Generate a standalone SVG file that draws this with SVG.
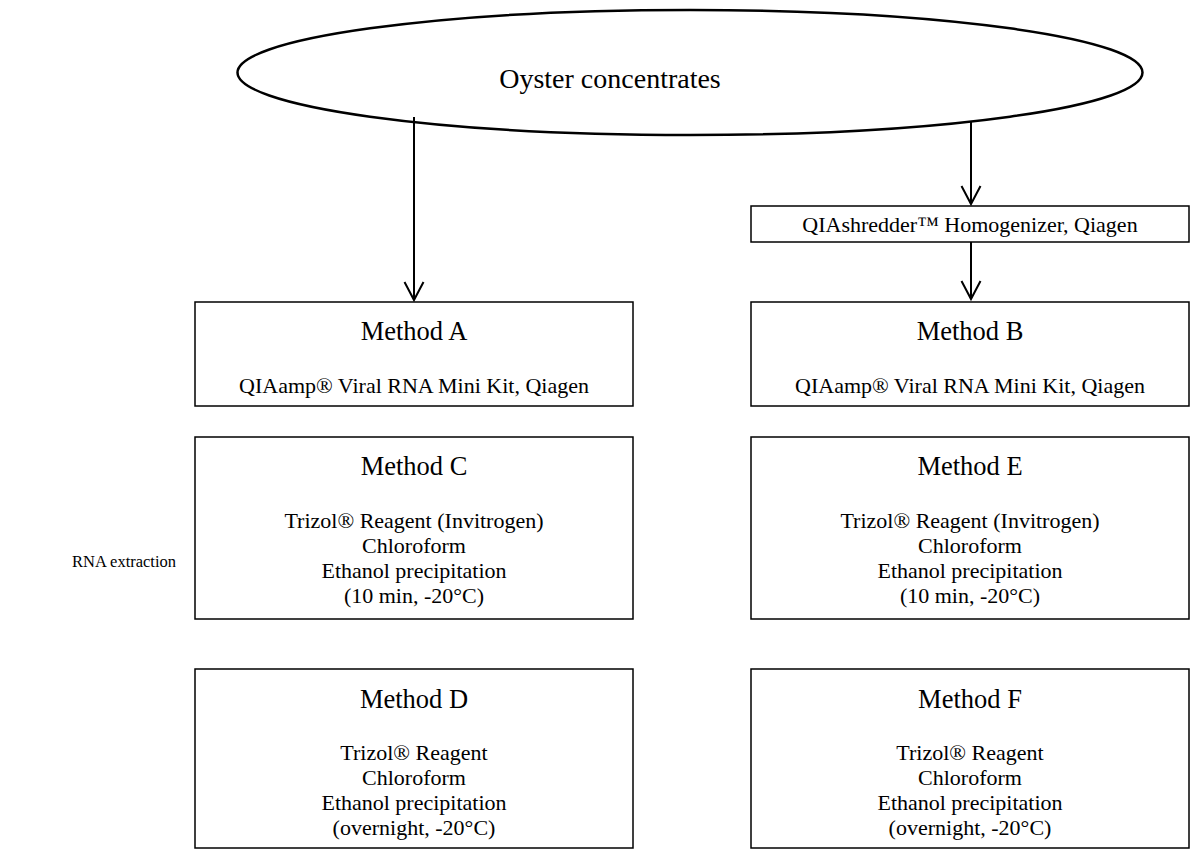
<svg xmlns="http://www.w3.org/2000/svg" width="1191" height="850" viewBox="0 0 1191 850">
<defs>
<style>
.t{font-family:"Liberation Serif","Times New Roman",serif;fill:#000;text-anchor:middle}
.h{font-size:26.5px}
.b{font-size:22px}
.box{fill:#fff;stroke:#000;stroke-width:1.5}
.con{stroke:#000;stroke-width:2;fill:none}
</style>
<marker id="ah" markerWidth="24" markerHeight="24" refX="20" refY="12" orient="auto" markerUnits="userSpaceOnUse" viewBox="0 0 24 24">
<path d="M2,2.5 L20,12 L2,21.5" fill="none" stroke="#000" stroke-width="2"/>
</marker>
</defs>
<rect width="1191" height="850" fill="#fff"/>
<g id="oyster">
<ellipse cx="690" cy="72.5" rx="452.5" ry="62.5" fill="#fff" stroke="#000" stroke-width="2.5"/>
<text class="t" x="610" y="88" font-size="28">Oyster concentrates</text>
</g>
<g id="connectors">
<line class="con" x1="414" y1="117" x2="414" y2="300" marker-end="url(#ah)"/>
<line class="con" x1="971" y1="122" x2="971" y2="204" marker-end="url(#ah)"/>
<line class="con" x1="971" y1="242" x2="971" y2="299" marker-end="url(#ah)"/>
</g>
<g id="qiashredder">
<rect class="box" x="751" y="206" width="438" height="36"/>
<text class="t b" x="970" y="232">QIAshredder™ Homogenizer, Qiagen</text>
</g>
<g id="methodA">
<rect class="box" x="195" y="302" width="438" height="104"/>
<text class="t h" x="414" y="340">Method A</text>
<text class="t b" x="414" y="393">QIAamp® Viral RNA Mini Kit, Qiagen</text>
</g>
<g id="methodB">
<rect class="box" x="751" y="302" width="438" height="104"/>
<text class="t h" x="970" y="340">Method B</text>
<text class="t b" x="970" y="393">QIAamp® Viral RNA Mini Kit, Qiagen</text>
</g>
<g id="methodC">
<rect class="box" x="195" y="437" width="438" height="182"/>
<text class="t h" x="414" y="475">Method C</text>
<text class="t b" x="414" y="528">Trizol® Reagent (Invitrogen)</text>
<text class="t b" x="414" y="553">Chloroform</text>
<text class="t b" x="414" y="578">Ethanol precipitation</text>
<text class="t b" x="414" y="603">(10 min, -20°C)</text>
</g>
<g id="methodE">
<rect class="box" x="751" y="437" width="438" height="182"/>
<text class="t h" x="970" y="475">Method E</text>
<text class="t b" x="970" y="528">Trizol® Reagent (Invitrogen)</text>
<text class="t b" x="970" y="553">Chloroform</text>
<text class="t b" x="970" y="578">Ethanol precipitation</text>
<text class="t b" x="970" y="603">(10 min, -20°C)</text>
</g>
<g id="methodD">
<rect class="box" x="195" y="669" width="438" height="179"/>
<text class="t h" x="414" y="708">Method D</text>
<text class="t b" x="414" y="760">Trizol® Reagent</text>
<text class="t b" x="414" y="785">Chloroform</text>
<text class="t b" x="414" y="810">Ethanol precipitation</text>
<text class="t b" x="414" y="835">(overnight, -20°C)</text>
</g>
<g id="methodF">
<rect class="box" x="751" y="669" width="438" height="179"/>
<text class="t h" x="970" y="708">Method F</text>
<text class="t b" x="970" y="760">Trizol® Reagent</text>
<text class="t b" x="970" y="785">Chloroform</text>
<text class="t b" x="970" y="810">Ethanol precipitation</text>
<text class="t b" x="970" y="835">(overnight, -20°C)</text>
</g>
<g id="label">
<text class="t" x="72" y="567" font-size="16.5" style="text-anchor:start">RNA extraction</text>
</g>
</svg>
